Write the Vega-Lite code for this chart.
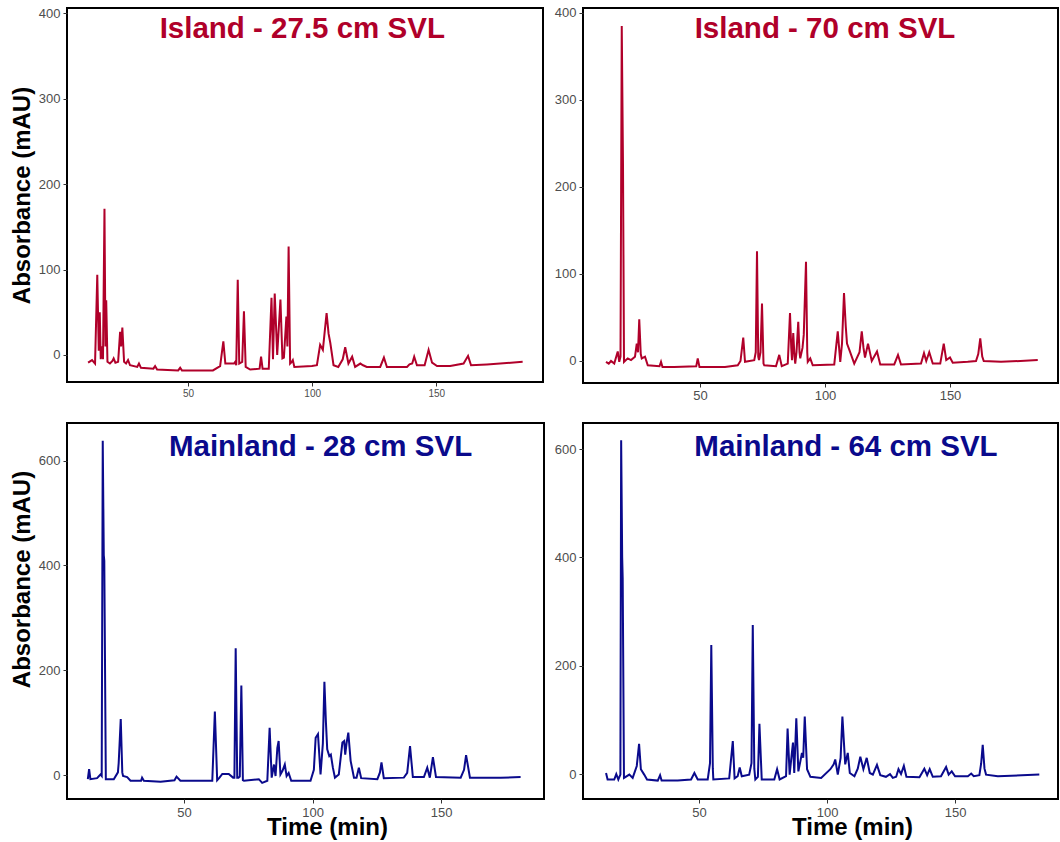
{
  "$schema": "https://vega.github.io/schema/vega-lite/v6.json",
  "padding": {"left": 9, "top": 5, "right": 2, "bottom": 0},
  "background": "white",
  "config": {
    "font": "Liberation Sans",
    "view": {"stroke": "black", "strokeWidth": 2},
    "axis": {
      "domain": false, "grid": false, "tickColor": "#333333", "tickSize": 4, "tickWidth": 1,
      "labelColor": "#4D4D4D", "labelFontSize": 13, "labelPadding": 3,
      "titleFontSize": 24, "titleFontWeight": "bold", "titleColor": "black", "titlePadding": 4
    },
    "line": {"strokeWidth": 2}
  },
  "datasets": {
    "tl": [
      {"t":9.7,"a":-9},{"t":11.3,"a":-6},{"t":12.5,"a":-10},{"t":13.4,"a":94},{"t":14.0,"a":5},{"t":14.4,"a":50},{"t":14.8,"a":-5},{"t":15.2,"a":10},{"t":15.7,"a":-5},{"t":16.3,"a":171},{"t":16.7,"a":10},{"t":17.0,"a":64},{"t":17.5,"a":-8},{"t":18.5,"a":-10},{"t":19.5,"a":-7},{"t":20.0,"a":-4},{"t":20.7,"a":-9},{"t":21.8,"a":-8},{"t":22.6,"a":27},{"t":23.0,"a":10},{"t":23.5,"a":32},{"t":24.2,"a":-8},{"t":25.0,"a":-10},{"t":25.8,"a":-6},{"t":26.6,"a":-12},{"t":29.5,"a":-14},{"t":30.2,"a":-10},{"t":31.0,"a":-15},{"t":36.0,"a":-16},{"t":36.7,"a":-13},{"t":37.5,"a":-17},{"t":46.0,"a":-18},{"t":46.8,"a":-15},{"t":47.5,"a":-18},{"t":60.0,"a":-18},{"t":62.9,"a":-13},{"t":64.2,"a":16},{"t":65.0,"a":-10},{"t":68.5,"a":-10},{"t":69.0,"a":-8},{"t":69.4,"a":-12},{"t":70.0,"a":88},{"t":70.6,"a":-10},{"t":71.8,"a":-8},{"t":72.5,"a":51},{"t":73.2,"a":-14},{"t":75.0,"a":-17},{"t":78.8,"a":-16},{"t":79.4,"a":-2},{"t":80.0,"a":-16},{"t":82.5,"a":-16},{"t":83.6,"a":67},{"t":84.2,"a":-5},{"t":84.9,"a":72},{"t":85.9,"a":0},{"t":87.2,"a":65},{"t":88.0,"a":-4},{"t":88.6,"a":-3},{"t":89.6,"a":45},{"t":90.0,"a":10},{"t":90.5,"a":127},{"t":91.1,"a":-10},{"t":91.8,"a":-8},{"t":92.2,"a":-6},{"t":92.8,"a":-14},{"t":99.9,"a":-13},{"t":101.9,"a":-12},{"t":103.2,"a":12},{"t":104.3,"a":6},{"t":105.8,"a":49},{"t":106.6,"a":25},{"t":107.3,"a":14},{"t":108.6,"a":-12},{"t":110.5,"a":-14},{"t":112.3,"a":-5},{"t":113.3,"a":9},{"t":114.6,"a":-10},{"t":116.1,"a":-2},{"t":117.3,"a":-14},{"t":119.4,"a":-10},{"t":120.5,"a":-12},{"t":122.0,"a":-14},{"t":127.4,"a":-14},{"t":128.9,"a":-3},{"t":130.1,"a":-14},{"t":138.2,"a":-14},{"t":139.2,"a":-11},{"t":140.3,"a":-10},{"t":141.1,"a":-2},{"t":142.2,"a":-12},{"t":145.3,"a":-12},{"t":146.9,"a":6},{"t":148.3,"a":-9},{"t":150.3,"a":-13},{"t":155.6,"a":-13},{"t":161.0,"a":-10},{"t":162.8,"a":-1},{"t":164.0,"a":-12},{"t":170.4,"a":-11},{"t":184.8,"a":-8}
    ],
    "tr": [
      {"t":12.4,"a":-1},{"t":13.5,"a":-3},{"t":14.4,"a":0},{"t":15.7,"a":-3},{"t":17.1,"a":11},{"t":17.7,"a":-1},{"t":18.2,"a":5},{"t":18.7,"a":385},{"t":19.2,"a":225},{"t":19.6,"a":-1},{"t":21.1,"a":3},{"t":22.4,"a":1},{"t":24.0,"a":5},{"t":24.7,"a":20},{"t":25.2,"a":10},{"t":25.7,"a":48},{"t":26.3,"a":8},{"t":26.7,"a":3},{"t":28.0,"a":5},{"t":29.1,"a":-5},{"t":33.8,"a":-6},{"t":34.4,"a":-1},{"t":35.0,"a":-7},{"t":39.7,"a":-7},{"t":48.5,"a":-6},{"t":49.1,"a":3},{"t":49.8,"a":-7},{"t":60.0,"a":-7},{"t":65.1,"a":-5},{"t":66.2,"a":0},{"t":67.3,"a":27},{"t":68.0,"a":-1},{"t":71.7,"a":1},{"t":72.3,"a":10},{"t":72.8,"a":126},{"t":73.3,"a":5},{"t":73.6,"a":1},{"t":74.2,"a":10},{"t":74.8,"a":66},{"t":75.4,"a":-3},{"t":75.7,"a":-5},{"t":80.4,"a":-6},{"t":81.7,"a":7},{"t":82.7,"a":-6},{"t":85.1,"a":-3},{"t":86.0,"a":55},{"t":86.5,"a":15},{"t":86.8,"a":1},{"t":87.3,"a":32},{"t":87.8,"a":5},{"t":88.1,"a":-3},{"t":88.6,"a":10},{"t":89.3,"a":45},{"t":89.8,"a":10},{"t":90.1,"a":3},{"t":91.0,"a":15},{"t":91.5,"a":30},{"t":92.4,"a":114},{"t":92.9,"a":10},{"t":93.1,"a":-1},{"t":94.1,"a":3},{"t":95.1,"a":-5},{"t":103.7,"a":-4},{"t":105.1,"a":34},{"t":106.1,"a":-1},{"t":106.8,"a":20},{"t":107.6,"a":78},{"t":108.3,"a":40},{"t":108.8,"a":20},{"t":109.7,"a":13},{"t":111.7,"a":-3},{"t":113.8,"a":10},{"t":114.7,"a":34},{"t":115.4,"a":15},{"t":116.0,"a":4},{"t":117.2,"a":20},{"t":118.7,"a":0},{"t":120.8,"a":11},{"t":122.1,"a":-4},{"t":127.7,"a":-4},{"t":129.2,"a":7},{"t":130.4,"a":-4},{"t":138.4,"a":-3},{"t":139.6,"a":9},{"t":140.5,"a":0},{"t":141.7,"a":10},{"t":143.1,"a":-3},{"t":146.1,"a":-3},{"t":147.5,"a":20},{"t":148.5,"a":1},{"t":150.0,"a":4},{"t":151.1,"a":-2},{"t":157.1,"a":-1},{"t":160.4,"a":0},{"t":161.3,"a":8},{"t":162.1,"a":26},{"t":162.9,"a":5},{"t":163.5,"a":0},{"t":170.4,"a":-1},{"t":185.1,"a":1}
    ],
    "bl": [
      {"t":12.6,"a":-8},{"t":13.1,"a":11},{"t":13.6,"a":-8},{"t":16.2,"a":-6},{"t":17.5,"a":1},{"t":18.0,"a":-2},{"t":18.4,"a":638},{"t":18.8,"a":420},{"t":19.0,"a":409},{"t":19.6,"a":-8},{"t":22.7,"a":-8},{"t":24.3,"a":5},{"t":24.6,"a":23},{"t":25.4,"a":107},{"t":26.0,"a":5},{"t":26.3,"a":-2},{"t":27.9,"a":-4},{"t":29.2,"a":-11},{"t":33.3,"a":-11},{"t":33.7,"a":-5},{"t":34.4,"a":-11},{"t":40.9,"a":-13},{"t":46.3,"a":-10},{"t":47.1,"a":-3},{"t":48.6,"a":-11},{"t":61.0,"a":-11},{"t":62.0,"a":121},{"t":62.9,"a":-10},{"t":63.8,"a":-5},{"t":64.9,"a":2},{"t":67.4,"a":2},{"t":69.1,"a":-5},{"t":69.6,"a":-5},{"t":70.1,"a":242},{"t":70.7,"a":-5},{"t":71.2,"a":-5},{"t":71.7,"a":-3},{"t":72.3,"a":171},{"t":72.9,"a":-10},{"t":73.3,"a":-11},{"t":79.1,"a":-8},{"t":80.4,"a":-15},{"t":82.4,"a":-11},{"t":83.3,"a":90},{"t":84.1,"a":-5},{"t":85.0,"a":20},{"t":85.6,"a":-2},{"t":86.3,"a":52},{"t":86.8,"a":65},{"t":87.5,"a":1},{"t":88.3,"a":8},{"t":89.2,"a":20},{"t":89.9,"a":-2},{"t":90.7,"a":4},{"t":91.7,"a":-11},{"t":99.2,"a":-11},{"t":100.5,"a":10},{"t":101.2,"a":71},{"t":102.1,"a":78},{"t":103.1,"a":1},{"t":104.0,"a":60},{"t":104.6,"a":178},{"t":105.2,"a":100},{"t":105.7,"a":49},{"t":106.5,"a":36},{"t":107.1,"a":39},{"t":107.9,"a":14},{"t":108.7,"a":-5},{"t":110.2,"a":1},{"t":111.6,"a":62},{"t":112.3,"a":65},{"t":112.7,"a":39},{"t":113.2,"a":60},{"t":113.9,"a":81},{"t":114.8,"a":27},{"t":116.1,"a":-5},{"t":117.1,"a":-5},{"t":118.0,"a":14},{"t":118.9,"a":-6},{"t":125.2,"a":-8},{"t":126.2,"a":5},{"t":126.8,"a":24},{"t":127.7,"a":-6},{"t":135.5,"a":-5},{"t":136.8,"a":4},{"t":137.9,"a":55},{"t":139.0,"a":-4},{"t":143.3,"a":-4},{"t":144.6,"a":14},{"t":145.6,"a":-5},{"t":146.8,"a":34},{"t":148.0,"a":-4},{"t":157.6,"a":-5},{"t":158.9,"a":10},{"t":159.7,"a":38},{"t":161.2,"a":-5},{"t":173.2,"a":-5},{"t":180.9,"a":-4}
    ],
    "br": [
      {"t":13.7,"a":2},{"t":14.3,"a":-10},{"t":16.9,"a":-10},{"t":17.7,"a":0},{"t":18.5,"a":-10},{"t":19.3,"a":-1},{"t":19.6,"a":616},{"t":20.0,"a":400},{"t":20.2,"a":362},{"t":20.7,"a":-7},{"t":22.8,"a":-1},{"t":24.1,"a":-7},{"t":25.7,"a":15},{"t":26.6,"a":56},{"t":27.3,"a":9},{"t":28.6,"a":-1},{"t":29.7,"a":-10},{"t":33.9,"a":-12},{"t":34.8,"a":-2},{"t":35.4,"a":-12},{"t":41.7,"a":-12},{"t":46.9,"a":-10},{"t":48.2,"a":2},{"t":49.5,"a":-10},{"t":53.4,"a":-10},{"t":54.3,"a":20},{"t":54.8,"a":238},{"t":55.4,"a":10},{"t":55.6,"a":-10},{"t":61.8,"a":-8},{"t":63.2,"a":61},{"t":63.9,"a":-8},{"t":65.1,"a":-4},{"t":65.9,"a":12},{"t":66.7,"a":-4},{"t":69.6,"a":-1},{"t":70.5,"a":20},{"t":71.0,"a":275},{"t":71.6,"a":10},{"t":72.0,"a":-10},{"t":73.0,"a":-5},{"t":73.6,"a":93},{"t":74.5,"a":-10},{"t":79.4,"a":-10},{"t":80.5,"a":9},{"t":81.5,"a":-10},{"t":84.0,"a":-4},{"t":84.6,"a":84},{"t":85.4,"a":-1},{"t":86.2,"a":36},{"t":86.7,"a":58},{"t":87.2,"a":2},{"t":88.0,"a":103},{"t":88.8,"a":5},{"t":89.6,"a":24},{"t":90.2,"a":39},{"t":90.7,"a":30},{"t":91.3,"a":106},{"t":92.2,"a":9},{"t":93.5,"a":-5},{"t":97.7,"a":-7},{"t":101.3,"a":9},{"t":102.6,"a":18},{"t":103.2,"a":27},{"t":104.2,"a":-1},{"t":105.3,"a":30},{"t":106.0,"a":106},{"t":107.1,"a":18},{"t":108.1,"a":39},{"t":108.9,"a":2},{"t":110.7,"a":-4},{"t":112.0,"a":10},{"t":113.0,"a":32},{"t":114.2,"a":9},{"t":115.5,"a":30},{"t":116.7,"a":2},{"t":117.9,"a":-1},{"t":119.5,"a":17},{"t":120.8,"a":-2},{"t":123.0,"a":-5},{"t":124.6,"a":0},{"t":125.7,"a":-7},{"t":127.0,"a":-5},{"t":127.9,"a":9},{"t":128.9,"a":0},{"t":130.0,"a":15},{"t":131.0,"a":-5},{"t":136.1,"a":-6},{"t":138.0,"a":10},{"t":139.1,"a":-2},{"t":140.1,"a":9},{"t":141.3,"a":-5},{"t":144.5,"a":-4},{"t":146.5,"a":13},{"t":147.5,"a":-1},{"t":148.7,"a":5},{"t":150.0,"a":-4},{"t":155.0,"a":-4},{"t":156.3,"a":1},{"t":157.3,"a":-4},{"t":159.5,"a":-2},{"t":160.2,"a":20},{"t":160.8,"a":54},{"t":161.5,"a":10},{"t":162.1,"a":-1},{"t":166.7,"a":-4},{"t":182.9,"a":-1}
    ]
  },
  "columns": 2,
  "spacing": {"row": 40, "column": 39},
  "bounds": "flush",
  "concat": [
    {
      "width": 476, "height": 374,
      "layer": [
        {
          "data": {"name": "tl"},
          "mark": {"type": "line", "color": "#B0002A", "strokeWidth": 2},
          "encoding": {
            "x": {"field": "t", "type": "quantitative", "scale": {"domain": [1.2, 193], "nice": false, "zero": false},
                  "axis": {"title": null, "values": [50, 100, 150], "labelFontSize": 10, "labelPadding": 2}},
            "y": {"field": "a", "type": "quantitative", "scale": {"domain": [-31.6, 406], "nice": false, "zero": false},
                  "axis": {"title": "Absorbance (mAU)", "values": [0, 100, 200, 300, 400]}}
          }
        },
        {
          "data": {"values": [{"label": "Island - 27.5 cm SVL"}]},
          "mark": {"type": "text", "fontSize": 29.5, "fontWeight": "bold", "color": "#B0002A", "align": "center", "baseline": "alphabetic"},
          "encoding": {"x": {"datum": 96}, "y": {"datum": 371}, "text": {"field": "label"}}
        }
      ]
    },
    {
      "width": 475, "height": 375,
      "layer": [
        {
          "data": {"name": "tr"},
          "mark": {"type": "line", "color": "#B0002A", "strokeWidth": 2},
          "encoding": {
            "x": {"field": "t", "type": "quantitative", "scale": {"domain": [3.2, 193.2], "nice": false, "zero": false},
                  "axis": {"title": null, "values": [50, 100, 150], "labelPadding": 2}},
            "y": {"field": "a", "type": "quantitative", "scale": {"domain": [-25.3, 405.7], "nice": false, "zero": false},
                  "axis": {"title": null, "values": [0, 100, 200, 300, 400]}}
          }
        },
        {
          "data": {"values": [{"label": "Island - 70 cm SVL"}]},
          "mark": {"type": "text", "fontSize": 29.5, "fontWeight": "bold", "color": "#B0002A", "align": "center", "baseline": "alphabetic"},
          "encoding": {"x": {"datum": 100}, "y": {"datum": 371}, "text": {"field": "label"}}
        }
      ]
    },
    {
      "width": 477, "height": 376,
      "layer": [
        {
          "data": {"name": "bl"},
          "mark": {"type": "line", "color": "#0A0A8C", "strokeWidth": 2},
          "encoding": {
            "x": {"field": "t", "type": "quantitative", "scale": {"domain": [4.5, 190], "nice": false, "zero": false},
                  "axis": {"title": "Time (min)", "values": [50, 100, 150], "titleX": 260, "titlePadding": -4}},
            "y": {"field": "a", "type": "quantitative", "scale": {"domain": [-45.8, 672], "nice": false, "zero": false},
                  "axis": {"title": "Absorbance (mAU)", "values": [0, 200, 400, 600], "titleY": 156}}
          }
        },
        {
          "data": {"values": [{"label": "Mainland - 28 cm SVL"}]},
          "mark": {"type": "text", "fontSize": 29.5, "fontWeight": "bold", "color": "#0A0A8C", "align": "center", "baseline": "alphabetic"},
          "encoding": {"x": {"datum": 103.1}, "y": {"datum": 609}, "text": {"field": "label"}}
        }
      ]
    },
    {
      "width": 475, "height": 376,
      "layer": [
        {
          "data": {"name": "br"},
          "mark": {"type": "line", "color": "#0A0A8C", "strokeWidth": 2},
          "encoding": {
            "x": {"field": "t", "type": "quantitative", "scale": {"domain": [4.7, 190.2], "nice": false, "zero": false},
                  "axis": {"title": "Time (min)", "values": [50, 100, 150], "titleX": 269, "titlePadding": -4}},
            "y": {"field": "a", "type": "quantitative", "scale": {"domain": [-46, 648], "nice": false, "zero": false},
                  "axis": {"title": null, "values": [0, 200, 400, 600]}}
          }
        },
        {
          "data": {"values": [{"label": "Mainland - 64 cm SVL"}]},
          "mark": {"type": "text", "fontSize": 29.5, "fontWeight": "bold", "color": "#0A0A8C", "align": "center", "baseline": "alphabetic"},
          "encoding": {"x": {"datum": 107.4}, "y": {"datum": 587}, "text": {"field": "label"}}
        }
      ]
    }
  ]
}
